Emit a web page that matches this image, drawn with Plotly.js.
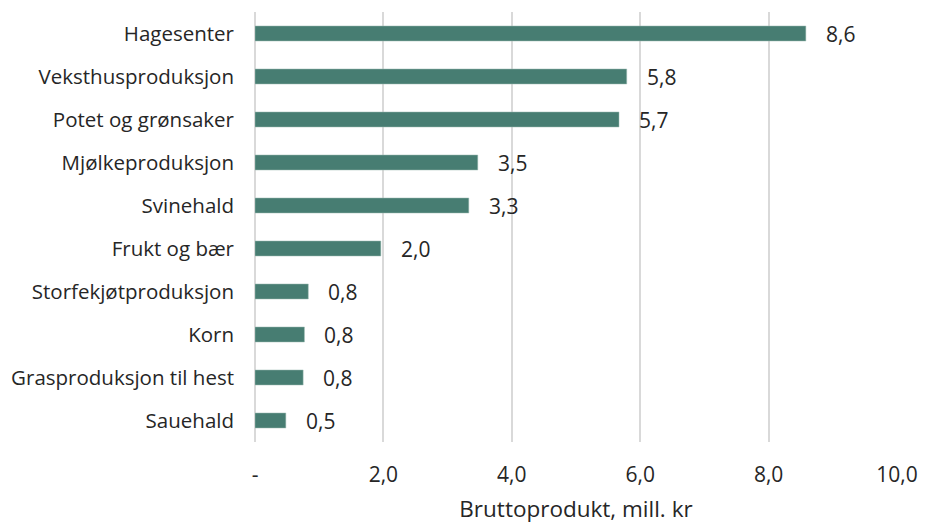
<!DOCTYPE html>
<html><head><meta charset="utf-8">
<script src="https://cdn.plot.ly/plotly-3.0.1.min.js"></script>
<style>body{margin:0;background:#fff}#c{width:925px;height:524px}</style>
</head><body><div id="c"></div>
<script>
const categories = ["Hagesenter","Veksthusproduksjon","Potet og grønsaker","Mjølkeproduksjon","Svinehald","Frukt og bær","Storfekjøtproduksjon","Korn","Grasproduksjon til hest","Sauehald"];
const values = [8.58, 5.79, 5.67, 3.47, 3.33, 1.96, 0.83, 0.77, 0.75, 0.48];
const tickVals = [0, 2, 4, 6, 8, 10];
const tickLabels = ["-", "2,0", "4,0", "6,0", "8,0", "10,0"];
const fmt = v => v.toFixed(1).replace(".", ",");

const fam = "Open Sans, Noto Sans, sans-serif";
const catFont = {family: fam, size: 20.5, color: "#262626"};
const numFont = {family: fam, size: 21, color: "#262626"};
const trace = {
  type: "bar", orientation: "h",
  x: values, y: categories,
  marker: {color: "#477d72", line: {color: "#9fbdb5", width: 0.5}},
  width: 0.35, hoverinfo: "none"
};
const annotations = values.map((v, i) => ({
  x: v, y: categories[i], xref: "x", yref: "y",
  text: fmt(v), showarrow: false, xanchor: "left", xshift: 18, font: numFont
}));
const layout = {
  width: 925, height: 524,
  margin: {l: 255, r: 28, t: 12, b: 82},
  paper_bgcolor: "#fff", plot_bgcolor: "#fff",
  font: catFont,
  showlegend: false,
  annotations: annotations,
  xaxis: {
    range: [0, 10], tickvals: tickVals, ticktext: tickLabels,
    showgrid: true, gridcolor: "#d9d9d9", gridwidth: 2,
    zeroline: true, zerolinecolor: "#d9d9d9", zerolinewidth: 2,
    showline: false, ticks: "", ticklabelstandoff: 18,
    tickfont: numFont,
    title: {text: "Bruttoprodukt, mill. kr", font: {family: fam, size: 22.5, color: "#262626"}, standoff: 15}
  },
  yaxis: {
    autorange: "reversed", showgrid: false, zeroline: false, showline: false,
    ticks: "", ticklabelstandoff: 20, tickfont: catFont
  }
};
Plotly.newPlot("c", [trace], layout, {displayModeBar: false, staticPlot: true});
</script></body></html>
